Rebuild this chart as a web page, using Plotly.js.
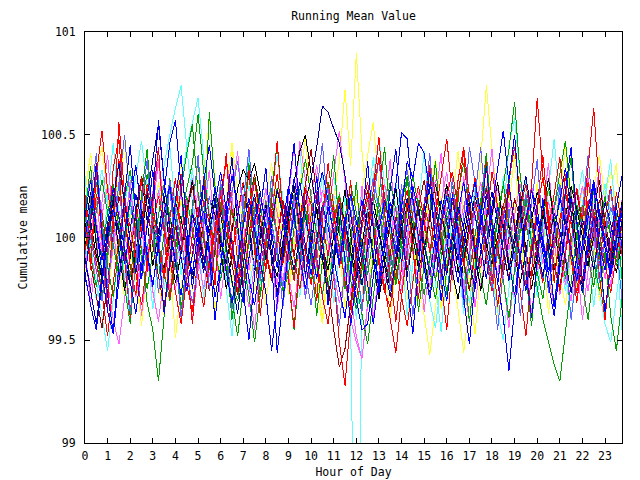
<!DOCTYPE html>
<html>
<head>
<meta charset="utf-8">
<script src="https://cdn.plot.ly/plotly-3.0.1.min.js"></script>
<style>
html, body { margin: 0; padding: 0; background: #fff; }
#chart { width: 640px; height: 480px; }
.scatterlayer path { shape-rendering: crispEdges; }
</style>
</head>
<body>
<div id="chart"></div>
<script>
var hours = [0,0.25,0.5,0.75,1,1.25,1.5,1.75,2,2.25,2.5,2.75,3,3.25,3.5,3.75,4,4.25,4.5,4.75,5,5.25,5.5,5.75,
6,6.25,6.5,6.75,7,7.25,7.5,7.75,8,8.25,8.5,8.75,9,9.25,9.5,9.75,10,10.25,10.5,10.75,11,11.25,11.5,11.75,
12,12.25,12.5,12.75,13,13.25,13.5,13.75,14,14.25,14.5,14.75,15,15.25,15.5,15.75,16,16.25,16.5,16.75,17,17.25,17.5,17.75,
18,18.25,18.5,18.75,19,19.25,19.5,19.75,20,20.25,20.5,20.75,21,21.25,21.5,21.75,22,22.25,22.5,22.75,23,23.25,23.5,23.75];

var xTicks = [0,1,2,3,4,5,6,7,8,9,10,11,12,13,14,15,16,17,18,19,20,21,22,23];
var yTicks = [99, 99.5, 100, 100.5, 101];
var yTickText = ['99', '99.5', '100', '100.5', '101'];

var s1 = [100.05,99.88,100.21,100.12,99.93,100.34,100.48,100.11,99.86,99.72,100.03,100.26,
100.15,99.97,99.81,100.09,100.29,100.02,99.77,99.64,99.91,100.18,100.07,99.95,
100.22,100.37,100.14,99.89,99.76,100.01,100.19,99.98,99.84,100.12,100.31,100.08,
99.93,99.79,100.06,100.24,100.16,99.9,99.71,99.58,99.82,99.49,99.28,99.61,
99.95,100.13,100.27,100.05,99.87,99.74,99.66,99.88,100.11,100.23,100.04,99.92,
100.17,100.35,100.21,99.99,99.83,100.02,100.28,100.44,100.19,99.96,99.85,100.07,
100.32,100.15,99.94,99.8,99.97,100.14,100.26,100.09,99.91,99.78,100.04,100.21,
100.39,100.12,99.89,99.73,99.95,100.18,100.06,99.86,100.1,100.25,100.03,99.92];

var s2 = [99.92,100.14,100.27,100.08,99.86,99.71,99.95,100.19,100.33,100.12,99.94,99.68,
99.55,99.3,99.62,99.89,100.06,100.24,100.41,100.55,100.22,99.98,99.84,100.03,
100.17,99.96,99.78,99.69,99.87,100.11,100.29,100.16,99.99,100.08,99.91,99.74,
99.82,100.05,100.23,100.38,100.2,100.01,99.88,99.76,99.93,100.1,99.97,99.79,
99.65,99.84,100.07,100.21,100.12,99.94,99.8,99.98,100.16,100.3,100.09,99.87,
99.72,99.9,100.13,100.02,99.85,100.04,100.22,100.36,100.15,99.96,99.81,99.67,
99.89,100.11,100.26,100.06,99.92,100.08,100.19,99.97,99.83,99.7,99.92,100.15,
100.31,100.47,100.18,99.95,99.77,99.6,99.84,100.06,100.2,100.01,99.88,99.99];

var s3 = [100.1,100.28,100.05,99.83,99.64,99.53,99.79,100.02,100.19,100.35,100.12,99.91,
99.76,99.98,100.22,100.46,100.57,100.24,99.97,99.82,100.04,100.13,99.95,99.71,
99.86,100.09,100.3,100.17,99.94,99.8,99.67,99.89,100.14,100.03,99.85,100.06,
100.25,100.11,99.9,99.75,99.93,100.2,100.32,100.18,100.01,99.86,100.1,99.86,
99.7,99.55,99.58,99.81,100.04,100.18,100.07,99.92,100.15,100.37,100.29,100.46,
100.41,100.22,100.0,99.84,99.69,99.91,100.12,100.27,100.08,99.93,100.05,100.21,
99.98,99.78,99.61,99.35,99.66,99.9,100.08,100.23,100.14,99.96,99.82,100.03,
100.18,100.34,100.12,99.88,99.73,99.94,100.1,99.97,99.84,100.02,100.16,99.95];

var s4 = [99.85,100.02,100.18,99.96,99.77,99.6,99.48,99.71,99.93,100.12,100.05,99.88,
100.04,100.23,100.09,99.9,99.74,99.95,100.14,100.29,100.11,99.92,99.81,99.99,
100.16,100.38,100.2,99.97,99.83,99.66,99.87,100.08,100.24,100.06,99.91,99.79,
99.96,100.13,100.47,100.28,100.03,99.86,99.72,99.94,100.15,100.07,99.89,99.73,
99.52,99.41,99.68,99.91,100.1,100.26,100.14,99.95,99.8,100.01,100.19,100.06,
99.88,99.76,99.97,100.17,100.32,100.09,99.94,99.78,99.59,99.82,100.05,99.98,
100.12,100.27,100.08,99.9,99.71,99.93,100.11,100.24,100.03,99.87,100.02,100.16,
99.99,99.83,99.69,99.9,100.13,100.29,100.1,99.94,99.8,99.97,100.08,99.91];

var s5 = [100.08,99.94,99.79,99.62,99.45,99.7,99.93,100.16,100.31,100.14,99.97,99.86,
100.05,100.2,100.36,100.5,100.63,100.74,100.44,100.17,99.98,99.83,100.01,100.12,
99.95,99.8,99.68,99.9,100.09,100.25,100.13,99.96,100.07,100.22,100.4,100.19,
99.99,99.84,99.71,99.93,100.11,100.03,99.88,100.05,100.21,100.09,99.82,99.58,
97.6,99.72,100.05,100.3,100.48,100.26,100.04,99.89,99.76,99.95,100.14,100.02,
99.87,99.69,99.56,99.8,100.02,100.19,100.07,99.91,100.06,100.24,100.1,99.95,
99.82,99.64,99.5,99.75,99.98,100.13,100.28,100.11,99.94,100.05,100.18,100.03,
99.9,99.78,99.96,100.17,100.33,100.12,99.91,99.74,99.58,99.49,99.72,99.93];

var s6 = [100.22,100.41,100.18,99.99,99.85,100.06,100.29,100.13,99.94,99.79,99.63,99.88,
100.1,100.27,100.04,99.87,99.51,99.76,99.97,100.15,100.34,100.17,99.98,99.82,
100.0,100.19,100.46,100.23,100.05,99.9,99.74,99.96,100.12,100.28,100.08,99.92,
99.78,99.93,100.11,100.26,100.09,99.95,99.84,100.03,100.2,100.37,100.72,100.35,
100.9,100.42,100.14,99.93,99.78,99.96,100.15,100.07,99.89,99.71,99.55,99.8,
100.02,100.21,100.38,100.16,99.97,99.83,99.65,99.44,99.69,99.92,100.38,100.74,
100.43,100.18,100.0,99.86,100.13,100.3,100.09,99.94,99.99,100.14,99.9,100.05,
100.27,100.1,99.91,99.76,99.9,100.08,100.23,100.4,100.19,100.02,99.88,100.05];

var s7 = [99.96,100.08,99.91,99.82,100.0,100.13,100.04,99.89,99.77,99.94,100.1,100.21,
100.06,99.93,99.85,100.02,100.17,100.09,99.95,99.8,99.92,100.07,100.19,100.11,
99.98,99.87,100.03,100.24,100.33,100.28,100.36,100.22,100.05,99.9,99.81,99.97,
100.14,100.27,100.42,100.5,100.31,100.12,99.96,99.84,100.01,100.16,100.08,99.93,
99.79,99.9,100.06,100.18,100.03,99.88,99.75,99.86,100.04,100.15,99.99,99.85,
99.94,100.11,100.26,100.13,99.97,99.83,99.7,99.89,100.07,100.2,100.1,99.96,
99.87,100.01,100.16,100.05,99.91,99.78,99.93,100.09,100.22,100.12,99.98,99.84,
99.95,100.1,100.25,100.14,99.99,99.86,100.0,100.13,100.04,99.92,99.83,99.97];

var s8 = [100.03,99.87,99.7,99.56,99.78,100.01,100.2,100.09,99.92,100.11,100.3,100.15,
99.96,99.81,99.66,99.88,100.05,99.94,100.12,100.25,100.07,99.9,99.74,99.95,
100.14,100.02,99.86,99.72,99.93,100.16,100.31,100.1,99.92,99.79,100.0,100.18,
100.07,99.91,100.09,100.26,100.43,100.2,99.98,99.76,99.55,99.37,99.46,99.68,
99.9,100.08,100.23,100.06,99.89,99.73,99.92,100.1,100.01,99.85,99.97,100.15,
100.28,100.11,99.94,99.81,99.99,100.17,100.05,99.88,99.74,99.93,100.12,100.24,
100.07,99.95,99.82,100.0,100.19,100.09,99.93,99.8,99.96,100.13,100.03,99.87,
99.76,99.94,100.11,100.22,100.06,99.9,100.04,100.18,100.08,99.93,100.06,100.15];

var s9 = [99.9,99.74,99.58,99.81,100.04,100.19,100.36,100.17,99.98,99.83,100.02,100.2,
100.38,100.55,100.27,100.05,99.88,99.72,99.94,100.12,100.03,99.86,100.07,100.24,
100.11,99.95,99.79,99.63,99.86,100.09,100.21,100.04,99.89,100.06,100.23,100.12,
99.97,99.84,100.0,100.17,100.29,100.44,100.64,100.61,100.53,100.46,100.3,100.1,
99.92,99.77,99.95,100.13,100.02,99.87,99.71,99.9,100.08,100.19,100.05,99.91,
100.1,100.26,100.14,99.96,99.82,100.0,100.15,100.04,99.88,99.75,99.93,100.1,
100.22,100.08,99.94,99.79,99.97,100.16,100.3,100.11,99.95,99.81,99.98,100.12,
100.03,99.89,99.73,99.91,100.09,99.99,99.84,100.03,100.17,100.07,99.93,100.08];

var s10 = [100.12,100.0,99.84,99.69,99.9,100.1,100.25,100.5,100.18,99.96,99.8,99.95,
100.09,99.93,100.11,100.28,100.13,99.97,99.83,99.68,99.88,100.06,100.2,100.05,
99.9,100.07,100.22,100.37,100.16,99.99,99.85,100.03,100.18,100.07,99.92,99.76,
99.93,100.1,99.97,99.82,99.67,99.89,100.11,100.24,100.06,99.91,100.08,100.19,
100.04,99.9,100.12,100.29,100.14,99.98,99.86,100.02,100.2,100.33,100.17,100.0,
99.87,99.71,99.92,100.09,100.23,100.08,99.94,100.1,100.44,100.27,100.06,99.9,
99.76,99.94,100.13,100.02,99.88,100.05,100.21,100.1,99.95,99.8,99.96,100.14,
100.26,100.09,99.93,99.78,99.95,100.12,100.01,99.86,99.99,100.15,100.05,99.94];

var s11 = [99.94,100.1,100.3,100.52,100.23,100.04,100.56,100.21,99.98,99.82,99.67,99.88,
100.07,100.2,100.04,99.89,99.73,99.58,99.8,100.01,100.15,99.99,99.85,100.03,
100.21,100.09,99.92,99.78,99.96,100.12,100.27,100.1,99.94,99.81,99.99,100.16,
100.05,99.9,99.75,99.93,100.11,100.22,100.06,99.91,100.07,100.19,100.02,99.86,
99.7,99.88,100.06,100.23,100.39,100.19,100.01,99.85,99.71,99.57,99.78,99.99,
100.16,100.04,99.88,100.05,100.2,100.32,100.14,99.96,100.12,100.29,100.1,99.93,
99.79,99.97,100.15,100.28,100.44,100.21,100.03,100.25,100.68,100.3,100.05,99.87,
99.74,99.92,100.1,100.24,100.08,100.34,100.63,100.22,99.98,99.83,100.0,100.14];

var s12 = [100.06,99.91,99.76,99.93,100.12,100.26,100.09,99.95,99.81,100.0,100.17,100.31,
100.14,99.97,99.83,99.69,99.89,100.08,100.2,100.03,99.87,100.05,100.61,100.25,
100.02,99.85,99.7,99.52,99.76,99.98,100.15,100.04,99.9,100.07,100.24,100.1,
99.94,99.8,99.97,100.14,100.02,99.87,99.72,99.91,100.09,100.21,100.06,99.92,
99.78,99.63,99.48,99.71,99.94,100.11,100.27,100.13,99.97,99.84,100.01,100.18,
100.07,99.92,99.79,99.95,100.12,100.25,100.1,99.96,99.83,100.02,100.19,100.05,
99.9,100.08,100.26,100.43,100.66,100.3,100.07,99.91,99.76,99.6,99.49,99.38,
99.3,99.55,99.8,100.02,100.16,100.04,99.89,99.74,99.93,99.62,99.45,99.7];

var s13 = [99.82,99.67,99.55,99.78,99.99,100.14,100.02,99.87,100.05,100.21,100.08,99.93,
99.77,99.96,100.13,100.25,100.07,99.9,99.74,99.92,100.1,100.28,100.45,100.2,
100.0,99.83,99.68,99.87,100.06,100.19,100.03,99.88,99.73,99.45,99.7,99.92,
100.11,100.29,100.13,99.96,99.82,100.0,100.16,100.05,99.89,99.75,99.61,99.84,
100.03,100.18,100.06,99.91,99.77,99.94,100.12,100.26,100.51,100.48,100.19,100.0,
99.85,99.7,99.9,100.07,100.2,100.04,99.89,100.06,100.22,100.11,99.95,99.8,
99.98,100.15,100.04,99.88,99.72,99.91,100.09,100.23,100.08,99.93,99.78,99.62,
99.85,100.04,100.19,100.07,99.92,100.1,100.27,100.13,99.97,99.83,99.99,100.12];

var s14 = [100.15,100.29,100.08,99.92,99.77,99.95,100.13,100.02,99.86,99.71,99.89,100.07,
100.22,100.38,100.17,99.99,99.84,100.03,100.18,100.06,99.9,99.75,99.94,100.11,
100.25,100.1,99.93,99.79,99.96,100.14,100.04,99.89,100.08,100.24,100.12,99.97,
99.81,99.66,99.88,100.06,100.21,100.35,100.16,99.98,99.83,99.68,99.81,99.6,
99.49,99.41,99.67,99.91,100.09,100.02,99.87,100.04,100.19,100.07,99.92,99.78,
99.96,100.14,100.28,100.12,99.95,99.8,99.99,100.16,100.05,99.9,99.76,99.93,
100.1,100.24,100.09,99.94,100.11,100.26,100.13,99.98,99.84,100.01,100.17,100.06,
99.91,99.77,99.95,100.12,100.25,100.1,99.96,100.08,100.2,100.03,99.88,100.02];

var s15 = [99.88,100.04,100.19,100.33,100.15,99.98,99.83,99.97,100.12,100.3,100.47,100.24,
100.06,99.9,99.75,99.94,100.1,100.27,100.44,100.56,100.68,100.39,100.12,99.95,
99.8,99.98,100.16,100.05,99.89,99.74,99.92,100.09,100.23,100.08,99.93,99.78,
99.96,100.13,100.27,100.1,99.94,99.8,99.98,100.15,100.3,100.12,99.95,99.83,
100.01,100.2,100.06,99.9,99.75,99.93,100.11,100.25,100.09,99.94,99.79,99.97,
100.15,100.04,99.89,100.07,100.22,100.1,99.96,99.82,99.68,99.88,100.06,100.2,
100.04,99.9,100.09,100.45,100.58,100.3,100.1,99.94,99.8,99.97,100.14,100.03,
99.88,99.74,99.92,100.1,100.24,100.08,99.93,100.11,100.26,100.12,99.97,99.55];

var s16 = [99.97,100.12,100.31,100.44,100.2,100.02,99.86,99.71,99.9,100.07,100.21,100.06,
99.91,99.76,99.62,99.85,100.03,100.18,100.05,99.89,100.08,100.25,100.59,100.27,
100.06,99.92,99.77,99.95,100.13,100.02,99.87,100.04,100.2,100.36,100.14,99.97,
99.83,100.0,100.17,100.06,99.9,99.74,99.58,99.81,100.01,100.15,100.04,99.88,
100.06,100.23,100.4,100.56,100.25,100.05,99.9,100.07,100.22,100.11,99.95,99.8,
99.62,99.43,99.67,99.89,100.05,100.19,100.03,99.88,100.06,100.22,100.09,99.93,
99.78,99.96,100.12,100.25,100.1,99.94,99.8,99.98,100.15,100.3,100.13,99.96,
99.81,99.67,99.89,100.08,100.23,100.06,99.91,100.05,100.2,100.32,100.15,100.0];

var s17 = [100.18,100.03,99.88,99.73,99.52,99.78,99.99,100.17,100.05,99.9,100.07,100.24,
100.09,99.94,99.8,99.98,100.16,100.31,100.13,99.96,99.82,99.66,99.88,100.06,
100.22,100.07,99.91,100.1,100.27,100.12,99.95,99.81,99.99,100.14,100.03,99.87,
100.04,100.2,100.08,99.92,99.77,99.96,100.13,100.26,100.1,99.93,99.79,99.65,
99.86,100.05,100.19,100.06,99.9,99.76,99.6,99.44,99.71,99.94,100.12,100.25,
100.08,99.93,100.11,100.29,100.48,100.2,100.01,99.86,100.03,100.17,100.05,99.89,
99.74,99.93,100.1,100.24,100.07,99.91,99.77,99.96,100.14,100.29,100.12,99.95,
100.09,100.22,100.07,99.92,99.78,99.96,100.13,100.02,99.87,99.73,99.91,100.06];

var s18 = [100.0,100.16,100.05,99.89,100.07,100.24,100.1,99.94,99.78,99.63,99.86,100.05,
100.2,100.57,100.28,100.03,99.87,99.72,99.93,100.11,99.98,99.83,100.02,100.18,
100.32,100.13,99.96,99.81,99.68,99.9,100.08,100.22,100.05,99.9,99.44,99.7,
99.94,100.12,100.27,100.1,99.95,99.8,99.97,100.15,100.03,99.88,100.06,100.21,
100.08,99.92,99.77,99.58,99.8,100.01,100.17,100.04,99.88,100.07,100.25,100.12,
99.96,99.82,100.0,100.18,100.08,99.93,99.78,99.95,100.13,100.27,100.11,99.97,
100.15,100.33,100.52,100.26,100.05,99.89,99.74,99.92,100.1,99.99,99.84,100.03,
100.19,100.08,99.93,99.79,99.97,100.14,100.28,100.1,99.95,99.81,99.99,100.16];

var s19 = [100.1,99.95,100.13,100.28,100.12,99.96,99.81,99.99,100.17,100.05,99.9,99.75,
99.93,100.11,100.26,100.09,99.94,100.08,100.24,100.36,100.6,100.32,100.1,99.94,
99.79,99.97,100.14,100.03,99.87,99.72,99.49,99.74,99.96,100.13,100.02,99.88,
100.05,100.21,100.07,99.92,99.78,99.96,100.14,100.27,100.11,99.95,100.1,100.26,
100.12,99.97,99.82,100.0,100.17,100.05,99.9,99.77,99.96,100.13,100.3,100.15,
99.98,99.84,99.7,99.9,100.08,100.2,100.04,99.89,99.75,99.93,100.11,100.25,
100.08,99.93,99.79,99.61,99.84,100.03,100.17,100.06,99.91,100.09,100.24,100.1,
99.95,99.8,99.98,100.16,100.05,99.9,99.76,99.94,100.12,100.01,99.86,99.98];

var s20 = [99.9,99.76,99.94,100.11,100.25,100.08,99.93,99.79,99.97,100.14,100.03,99.88,
99.73,99.59,99.81,100.0,100.16,100.04,99.89,100.07,100.22,100.1,99.95,99.81,
99.99,100.16,100.31,100.14,99.98,99.84,100.02,100.19,100.07,99.92,99.77,99.95,
100.12,100.03,99.87,99.72,99.9,100.08,100.23,100.11,100.31,100.52,100.27,100.06,
99.89,100.05,100.2,100.09,99.94,99.79,99.97,100.15,100.04,99.89,100.06,100.22,
100.1,99.95,99.8,99.98,100.15,100.05,99.9,99.75,99.94,100.12,100.27,100.1,
99.96,99.82,100.0,100.17,100.06,99.91,100.09,100.25,100.13,99.97,99.83,99.66,
99.89,100.07,100.21,100.05,99.9,99.74,99.93,100.1,99.98,99.83,100.01,100.15];

var s21 = [100.21,99.84,100.32,99.97,99.66,100.12,100.38,99.9,99.61,100.05,100.29,99.83,
100.17,100.44,100.02,99.7,99.95,100.26,99.88,99.58,99.92,100.3,100.09,99.77,
100.14,100.41,99.99,99.73,100.06,100.33,99.94,99.62,99.87,100.19,100.47,100.11,
99.8,99.56,99.9,100.24,99.96,99.69,100.08,100.36,100.15,99.85,100.02,100.28,
99.91,99.64,99.98,100.22,100.49,100.13,99.82,99.59,99.86,100.18,99.93,99.7,
100.04,100.35,100.1,99.79,99.55,99.89,100.2,100.42,100.07,99.8,100.11,100.37,
99.97,99.66,99.9,100.25,100.05,99.74,99.52,99.83,100.16,100.4,100.08,99.78,
100.03,100.31,99.95,99.68,99.92,100.27,100.12,99.81,99.6,99.91,100.22,100.06];

var s22 = [99.78,100.09,100.36,100.02,99.72,99.54,99.88,100.2,100.45,100.1,99.8,100.06,
100.33,99.96,99.63,99.87,100.18,100.4,100.05,99.75,99.97,100.27,99.91,99.6,
99.85,100.15,100.39,100.07,99.74,99.5,99.82,100.13,100.34,99.99,99.7,99.94,
100.23,100.46,100.12,99.81,100.03,100.3,99.98,99.67,99.9,100.17,99.88,99.57,
99.8,100.1,100.37,100.04,99.73,99.95,100.24,100.43,100.08,99.78,99.53,99.86,
100.14,100.32,99.97,99.69,99.93,100.21,100.02,99.71,99.48,99.79,100.1,100.35,
100.06,99.77,100.0,100.28,100.5,100.14,99.84,99.61,99.89,100.19,99.95,99.66,
99.9,100.23,100.44,100.09,99.79,99.99,100.26,99.93,99.64,99.87,100.15,100.3];

var s23 = [100.12,100.35,99.98,99.7,99.93,100.24,100.05,99.76,99.58,99.9,100.21,100.43,
100.08,99.8,100.02,100.29,99.95,99.65,99.88,100.16,100.38,100.03,99.74,99.96,
100.25,99.92,99.6,99.83,100.11,100.36,100.0,99.71,99.94,100.22,100.46,100.1,
99.79,99.55,99.86,100.15,99.91,99.62,99.89,100.18,100.4,100.04,99.75,99.98,
100.27,99.93,99.66,99.9,100.2,100.44,100.09,99.78,100.01,100.3,99.96,99.64,
99.87,100.13,100.37,100.02,99.72,99.95,100.23,99.9,99.59,99.85,100.17,100.41,
100.06,99.77,99.99,100.26,100.5,100.13,99.82,99.57,99.88,100.19,99.94,99.67,
99.91,100.21,100.39,100.05,99.76,100.0,100.24,99.92,99.63,99.86,100.12,99.8];

var s24 = [99.95,99.68,99.9,100.17,100.4,100.06,99.77,100.0,100.28,99.94,99.62,99.86,
100.14,100.37,100.04,99.73,99.96,100.24,99.9,99.6,99.84,100.11,100.33,99.99,
99.7,99.93,100.2,100.42,100.08,99.78,99.55,99.85,100.16,99.92,99.65,99.89,
100.19,100.45,100.1,99.8,100.03,100.31,99.97,99.67,99.91,100.22,100.01,99.72,
99.94,100.25,99.9,99.61,99.83,100.13,100.38,100.03,99.74,99.97,100.26,99.93,
99.64,99.88,100.18,100.41,100.07,99.79,100.02,100.3,99.95,99.66,99.9,100.2,
100.43,100.09,99.8,99.56,99.87,100.15,99.91,99.63,99.86,100.14,100.36,100.0,
99.72,99.95,100.23,99.89,99.6,99.84,100.12,100.35,100.04,99.76,99.99,100.18];

var s25 = [100.3,99.98,99.69,99.91,100.2,100.46,100.1,99.8,99.59,99.88,100.17,99.93,
99.65,99.9,100.22,100.45,100.12,99.82,100.05,100.34,100.0,99.7,99.94,100.25,
100.04,99.75,99.52,99.84,100.14,100.4,100.07,99.77,100.0,100.29,99.96,99.66,
99.89,100.18,100.43,100.11,99.81,100.04,100.32,99.98,99.68,99.92,100.21,99.9,
99.6,99.86,100.16,100.39,100.05,99.74,99.97,100.27,99.93,99.62,99.87,100.15,
100.42,100.08,99.78,99.54,99.83,100.13,99.9,99.63,99.88,100.19,100.44,100.1,
99.8,100.02,100.3,99.97,99.67,99.91,100.22,100.01,99.71,99.94,100.24,100.48,
100.14,99.83,99.6,99.88,100.18,99.95,99.66,99.9,100.2,100.38,100.05,99.75];

var s26 = [99.8,100.07,100.33,100.0,99.71,99.94,100.23,100.47,100.12,99.82,99.57,99.87,
100.16,99.92,99.63,99.86,100.14,100.39,100.04,99.74,99.97,100.26,99.93,99.64,
99.89,100.19,100.44,100.1,99.8,100.02,100.31,99.97,99.67,99.91,100.2,100.0,
99.72,99.95,100.24,100.5,100.15,99.84,99.6,99.88,100.17,99.94,99.66,99.9,
100.21,100.03,99.73,99.96,100.26,99.92,99.61,99.85,100.13,100.37,100.06,99.76,
99.99,100.28,99.95,99.65,99.89,100.18,100.42,100.08,99.78,99.53,99.84,100.15,
99.91,99.62,99.87,100.16,100.4,100.05,99.75,99.98,100.27,99.94,99.63,99.88,
100.19,100.45,100.11,99.81,100.03,100.32,99.99,99.69,99.92,100.22,100.36,100.02];

var s27 = [100.04,100.22,99.96,99.79,100.01,100.18,99.93,99.74,99.9,100.13,100.3,100.07,
99.86,100.03,100.2,99.95,99.78,99.92,100.12,100.28,100.06,99.85,100.02,100.19,
99.94,99.75,99.91,100.11,100.27,100.05,99.84,100.0,100.17,99.92,99.73,99.89,
100.09,100.25,100.03,99.82,99.98,100.15,99.9,99.71,99.87,100.07,100.23,100.01,
99.8,99.96,100.14,99.89,99.7,99.88,100.08,100.24,100.02,99.81,99.99,100.16,
99.91,99.72,99.9,100.1,100.26,100.04,99.83,100.0,100.18,99.93,99.74,99.91,
100.11,100.27,100.05,99.84,100.01,100.19,99.94,99.75,99.92,100.12,100.29,100.06,
99.85,100.02,100.2,99.95,99.76,99.93,100.13,100.28,100.07,99.86,100.03,100.17];

var s28 = [99.92,100.19,100.41,100.06,99.76,99.99,100.27,99.94,99.63,99.87,100.16,100.38,
100.03,99.73,99.96,100.25,99.91,99.61,99.85,100.14,100.4,100.05,99.75,99.98,
100.28,99.95,99.65,99.89,100.18,100.43,100.09,99.79,100.01,100.3,99.96,99.66,
99.9,100.21,100.0,99.7,99.93,100.22,100.46,100.11,99.81,99.57,99.86,100.15,
99.92,99.64,99.88,100.17,100.39,100.04,99.74,99.97,100.26,99.93,99.62,99.86,
100.15,100.41,100.07,99.77,100.0,100.29,99.96,99.67,99.9,100.2,100.44,100.1,
99.8,99.55,99.85,100.14,99.9,99.62,99.87,100.17,100.38,100.03,99.73,99.96,
100.25,99.92,99.6,99.84,100.13,100.4,100.06,99.78,100.01,100.24,99.97,99.7];

var seriesList = [s6, s16, s26, s5, s15, s25, s4, s20, s14, s24, s2, s19, s12, s23, s7, s27, s8,
  s1, s17, s21, s10, s28, s11, s9, s13, s3, s18, s22];
var seriesColors = ['#ffff40', '#ffff40', '#ffff40', '#60ffff', '#60ffff', '#60ffff',
  '#ff60ff', '#ff60ff', '#ff60ff', '#ff60ff', '#00a000', '#00a000', '#00a000', '#00a000',
  '#000000', '#000000', '#a00000', '#ff0000', '#ff0000', '#ff0000', '#6060ff', '#6060ff',
  '#ff0000', '#0000a0', '#0000ff', '#0000ff', '#0000ff', '#0000ff'];

var traces = seriesList.map(function (ys, i) {
  return {
    x: hours,
    y: ys,
    type: 'scatter',
    mode: 'lines',
    line: { color: seriesColors[i], width: 1 },
    showlegend: false,
    hoverinfo: 'skip'
  };
});

var fontFam = '"DejaVu Sans Mono", monospace';
var layout = {
  width: 640,
  height: 480,
  margin: { l: 85, r: 18, t: 32, b: 37, pad: 0 },
  paper_bgcolor: '#ffffff',
  plot_bgcolor: '#ffffff',
  font: { family: fontFam, size: 11.5, color: '#000000' },
  title: {
    text: 'Running Mean Value',
    font: { family: fontFam, size: 11.5, color: '#000000' },
    x: 0.5, xanchor: 'center', xref: 'paper',
    y: 0.967, yanchor: 'middle', yref: 'container'
  },
  showlegend: false,
  hovermode: false,
  xaxis: {
    range: [0, 23.75],
    tickvals: xTicks,
    ticks: 'inside',
    ticklen: 5,
    tickcolor: '#000000',
    tickwidth: 1,
    showline: true,
    linecolor: '#000000',
    linewidth: 1,
    mirror: 'ticks',
    showgrid: false,
    zeroline: false,
    ticklabelstandoff: 2,
    tickfont: { family: fontFam, size: 11.5, color: '#000000' },
    title: { text: 'Hour of Day', standoff: 6, font: { family: fontFam, size: 11.5, color: '#000000' } }
  },
  yaxis: {
    range: [99, 101],
    tickvals: yTicks,
    ticktext: yTickText,
    ticks: 'inside',
    ticklen: 5,
    tickcolor: '#000000',
    tickwidth: 1,
    showline: true,
    linecolor: '#000000',
    linewidth: 1,
    mirror: 'ticks',
    showgrid: false,
    zeroline: false,
    ticklabelstandoff: 6,
    tickfont: { family: fontFam, size: 11.5, color: '#000000' },
    title: { text: 'Cumulative mean', standoff: 11, font: { family: fontFam, size: 11.5, color: '#000000' } }
  }
};

Plotly.newPlot('chart', traces, layout, { staticPlot: true, displayModeBar: false });
</script>
</body>
</html>
